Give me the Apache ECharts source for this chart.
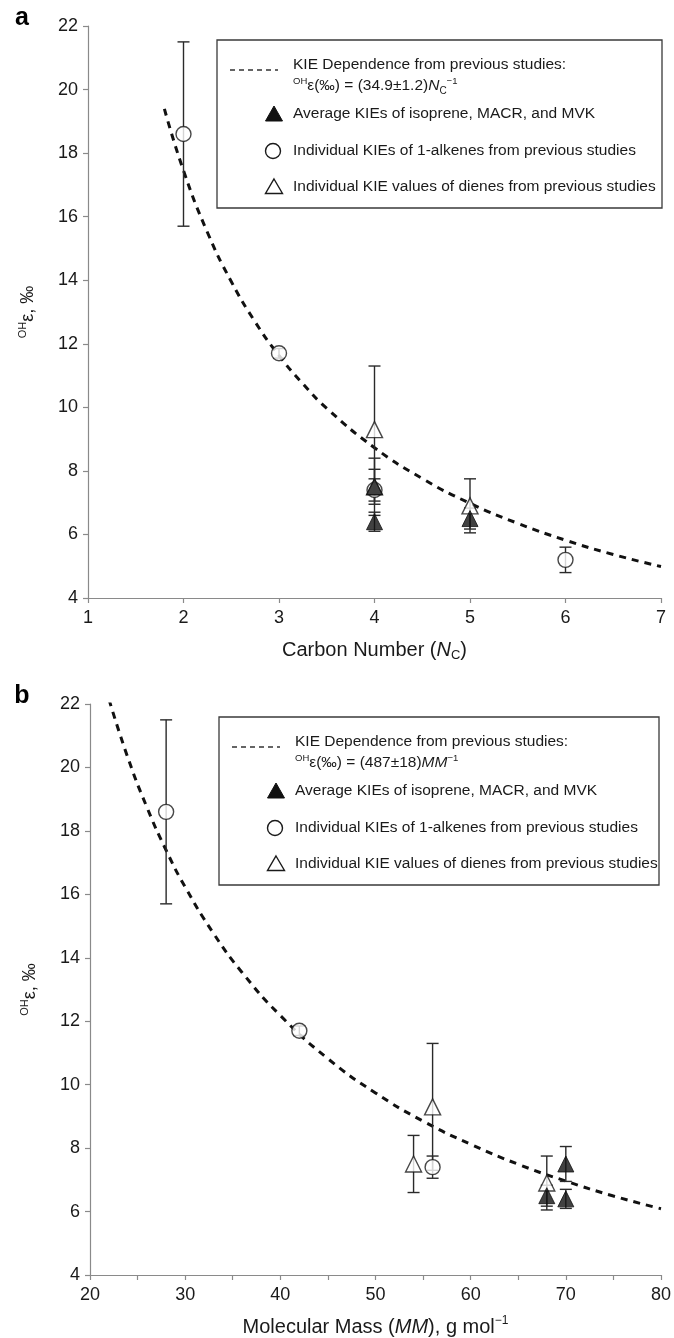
<!DOCTYPE html>
<html><head><meta charset="utf-8">
<script src="https://cdn.jsdelivr.net/npm/echarts@6/dist/echarts.min.js"></script>
<style>html,body{margin:0;padding:0;background:#fff}#c{width:674px;height:1338px}</style>
</head><body><div id="c"></div>
<script>
// ---------- Panel a : x = carbon number N_C ----------
var alkA_x = [2, 3, 4, 6];
var alkA_y = [18.6, 11.7, 7.4, 5.2];
var alkA_e = [2.9, 0.15, 0.35, 0.4];
var dieA_x = [4, 4, 5];
var dieA_y = [7.5, 9.3, 6.9];
var dieA_e = [0.9, 2.0, 0.85];
var avgA_x = [4, 4, 5];
var avgA_y = [7.5, 6.4, 6.5];
var avgA_e = [0.55, 0.3, 0.33];
var fitA_x = [1.8, 2, 2.25, 2.5, 2.75, 3, 3.25, 3.5, 4, 4.5, 5, 5.5, 6, 6.5, 7];
var fitA_y = [19.39, 17.45, 15.51, 13.96, 12.69, 11.63, 10.74, 9.97, 8.73, 7.76, 6.98, 6.35, 5.82, 5.37, 4.99];

// ---------- Panel b : x = molecular mass MM ----------
var alkB_x = [28, 42, 56];
var alkB_y = [18.6, 11.7, 7.4];
var alkB_e = [2.9, 0.15, 0.35];
var dieB_x = [54, 56, 68];
var dieB_y = [7.5, 9.3, 6.9];
var dieB_e = [0.9, 2.0, 0.85];
var avgB_x = [68, 70, 70];
var avgB_y = [6.5, 7.5, 6.4];
var avgB_e = [0.33, 0.55, 0.3];
var fitB_x = [22, 24, 26, 28, 30, 33, 36, 40, 45, 50, 55, 60, 65, 70, 75, 80];
var fitB_y = [22.14, 20.29, 18.73, 17.39, 16.23, 14.76, 13.53, 12.18, 10.82, 9.74, 8.85, 8.12, 7.49, 6.96, 6.49, 6.09];

// axis ranges
var yRange = [4, 22, 2];
var xRangeA = [1, 7, 1];
var xRangeB = [20, 80, 10];

// legend texts
var legFitTitle = 'KIE Dependence from previous studies:';
var legFormulaA = '{sup|OH}{t|ε(‰) = (34.9±1.2)}{it|N}{sub|C}{sup|−1}';
var legFormulaB = '{sup|OH}{t|ε(‰) = (487±18)}{it|MM}{sup|−1}';
var legAvg = 'Average KIEs of isoprene, MACR, and MVK';
var legAlk = 'Individual KIEs of 1-alkenes from previous studies';
var legDie = 'Individual KIE values of dienes from previous studies';

var FONT = '"Liberation Sans", Arial, Helvetica, sans-serif';
var INK = '#1a1a1a';

function pts(xs, ys) { return xs.map(function (x, i) { return [x, ys[i]]; }); }
function errs(xs, ys, es) { return xs.map(function (x, i) { return [x, ys[i] - es[i], ys[i] + es[i]]; }); }

function errSeries(data, idx) {
  return {
    type: 'custom', xAxisIndex: idx, yAxisIndex: idx, z: 3, silent: true,
    encode: { x: 0, y: [1, 2] },
    renderItem: function (params, api) {
      var x = api.value(0), lo = api.value(1), hi = api.value(2);
      var a = api.coord([x, hi]), b = api.coord([x, lo]);
      var w = 6, st = { stroke: '#2a2a2a', lineWidth: 1.4 };
      return { type: 'group', children: [
        { type: 'line', shape: { x1: a[0], y1: a[1], x2: b[0], y2: b[1] }, style: st },
        { type: 'line', shape: { x1: a[0] - w, y1: a[1], x2: a[0] + w, y2: a[1] }, style: st },
        { type: 'line', shape: { x1: b[0] - w, y1: b[1], x2: b[0] + w, y2: b[1] }, style: st }
      ]};
    },
    data: data
  };
}
function fitSeries(xs, ys, idx) {
  return { type: 'line', xAxisIndex: idx, yAxisIndex: idx, data: pts(xs, ys), smooth: true,
    symbol: 'none', z: 2, silent: true,
    lineStyle: { color: '#111', width: 3, type: [7, 6] } };
}
function scat(xs, ys, idx, symbol, filled, size, z) {
  return { type: 'scatter', xAxisIndex: idx, yAxisIndex: idx, data: pts(xs, ys), symbol: symbol,
    symbolSize: size, z: z, silent: true,
    itemStyle: filled ? { color: '#111', borderColor: '#111', borderWidth: 1 }
                      : { color: '#fff', borderColor: '#1a1a1a', borderWidth: 1.4 } };
}

function xAxis(idx, r, nameRich, minor) {
  return {
    type: 'value', gridIndex: idx, min: r[0], max: r[1], interval: r[2],
    splitLine: { show: false },
    axisLine: { lineStyle: { color: '#8a8a8a', width: 1.2 } },
    axisTick: { show: true, length: 5, lineStyle: { color: '#8a8a8a', width: 1.2 } },
    minorTick: { show: !!minor, splitNumber: 2, length: 5, lineStyle: { color: '#8a8a8a', width: 1.2 } },
    axisLabel: { color: INK, fontSize: 18, fontFamily: FONT, margin: 11 },
    name: nameRich, nameLocation: 'middle', nameGap: 40,
    nameTextStyle: { color: INK, fontFamily: FONT, fontSize: 20,
      rich: {
        t: { fontSize: 20, fontFamily: FONT, color: INK, lineHeight: 24 },
        it: { fontSize: 20, fontFamily: FONT, color: INK, fontStyle: 'italic', lineHeight: 24 },
        sub: { fontSize: 13, fontFamily: FONT, color: INK, verticalAlign: 'bottom', lineHeight: 24 },
        sup: { fontSize: 12, fontFamily: FONT, color: INK, verticalAlign: 'top', lineHeight: 24 }
      } }
  };
}
function yAxis(idx) {
  return {
    type: 'value', gridIndex: idx, min: yRange[0], max: yRange[1], interval: yRange[2],
    splitLine: { show: false },
    axisLine: { show: true, lineStyle: { color: '#8a8a8a', width: 1.2 } },
    axisTick: { show: true, length: 5, lineStyle: { color: '#8a8a8a', width: 1.2 } },
    axisLabel: { color: INK, fontSize: 18, fontFamily: FONT, margin: 10 },
    name: '{sup|OH}{t|ε, ‰}', nameLocation: 'middle', nameGap: 49, nameRotate: 90,
    nameTextStyle: { color: INK, fontFamily: FONT, fontSize: 18,
      rich: {
        t: { fontSize: 18, fontFamily: FONT, color: INK, lineHeight: 22 },
        sup: { fontSize: 11, fontFamily: FONT, color: INK, verticalAlign: 'top', lineHeight: 22 }
      } }
  };
}

function legend(left, top, right, formula) {
  var h = 168, mx = left + 57, tx = left + 76;
  var tS = { fill: INK, font: '15.5px ' + FONT, textAlign: 'left', textVerticalAlign: 'middle', align: 'left', verticalAlign: 'middle' };
  function txt(s, y) { return { type: 'text', z: 20, style: Object.assign({ text: s, x: tx, y: top + y }, tS) }; }
  var els = [
    { type: 'rect', z: 15, shape: { x: left, y: top, width: right - left, height: h },
      style: { fill: '#fff', stroke: '#3a3a3a', lineWidth: 1.3 } },
    { type: 'line', z: 20, shape: { x1: left + 13, y1: top + 30, x2: left + 61, y2: top + 30 },
      style: { stroke: '#333', lineWidth: 1.5, lineDash: [5, 4] } },
    txt(legFitTitle, 25),
    { type: 'text', z: 20, style: { text: formula, x: tx, y: top + 46, fill: INK,
        font: '15.5px ' + FONT, textAlign: 'left', textVerticalAlign: 'middle', align: 'left', verticalAlign: 'middle',
        rich: {
          t: { fontSize: 15.5, fontFamily: FONT, fill: INK, color: INK, lineHeight: 20 },
          it: { fontSize: 15.5, fontFamily: FONT, fill: INK, color: INK, fontStyle: 'italic', lineHeight: 20 },
          sub: { fontSize: 10, fontFamily: FONT, fill: INK, color: INK, verticalAlign: 'bottom', lineHeight: 20 },
          sup: { fontSize: 9.5, fontFamily: FONT, fill: INK, color: INK, verticalAlign: 'top', lineHeight: 20 }
        } } },
    { type: 'polygon', z: 20, shape: { points: [[mx, top + 74 - 8], [mx + 8.5, top + 74 + 7], [mx - 8.5, top + 74 + 7]] },
      style: { fill: '#111', stroke: '#111', lineWidth: 1 } },
    txt(legAvg, 74),
    { type: 'circle', z: 20, shape: { cx: mx - 1, cy: top + 111, r: 7.5 },
      style: { fill: '#fff', stroke: '#1a1a1a', lineWidth: 1.4 } },
    txt(legAlk, 111),
    { type: 'polygon', z: 20, shape: { points: [[mx, top + 147 - 8], [mx + 8.5, top + 147 + 6.5], [mx - 8.5, top + 147 + 6.5]] },
      style: { fill: '#fff', stroke: '#1a1a1a', lineWidth: 1.4 } },
    txt(legDie, 147)
  ];
  return els;
}

var chart = echarts.init(document.getElementById('c'), null, { renderer: 'canvas' });
var graphics = []
  .concat(legend(217, 40, 662, legFormulaA))
  .concat(legend(219, 717, 659, legFormulaB))
  .concat([
    { type: 'text', z: 20, style: { text: 'a', x: 22, y: 18, fill: '#000', font: 'bold 25px ' + FONT,
      textAlign: 'center', textVerticalAlign: 'middle', align: 'center', verticalAlign: 'middle' } },
    { type: 'text', z: 20, style: { text: 'b', x: 22, y: 696, fill: '#000', font: 'bold 25px ' + FONT,
      textAlign: 'center', textVerticalAlign: 'middle', align: 'center', verticalAlign: 'middle' } }
  ]);

chart.setOption({
  animation: false,
  backgroundColor: '#fff',
  grid: [
    { left: 88, top: 26, width: 573, height: 572 },
    { left: 90, top: 704, width: 574, height: 572 }
  ],
  xAxis: [
    xAxis(0, xRangeA, '{t|Carbon Number (}{it|N}{sub|C}{t|)}', false),
    xAxis(1, xRangeB, '{t|Molecular Mass (}{it|MM}{t|), g mol}{sup|−1}', true)
  ],
  yAxis: [yAxis(0), yAxis(1)],
  series: [
    fitSeries(fitA_x, fitA_y, 0),
    errSeries(errs(alkA_x, alkA_y, alkA_e), 0),
    errSeries(errs(dieA_x, dieA_y, dieA_e), 0),
    errSeries(errs(avgA_x, avgA_y, avgA_e), 0),
    scat(alkA_x, alkA_y, 0, 'circle', false, 15, 4),
    scat(dieA_x, dieA_y, 0, 'triangle', false, 16, 5),
    scat(avgA_x, avgA_y, 0, 'triangle', true, 16, 6),

    fitSeries(fitB_x, fitB_y, 1),
    errSeries(errs(alkB_x, alkB_y, alkB_e), 1),
    errSeries(errs(dieB_x, dieB_y, dieB_e), 1),
    errSeries(errs(avgB_x, avgB_y, avgB_e), 1),
    scat(alkB_x, alkB_y, 1, 'circle', false, 15, 4),
    scat(dieB_x, dieB_y, 1, 'triangle', false, 16, 5),
    scat(avgB_x, avgB_y, 1, 'triangle', true, 16, 6)
  ],
  graphic: graphics
});
</script></body></html>
